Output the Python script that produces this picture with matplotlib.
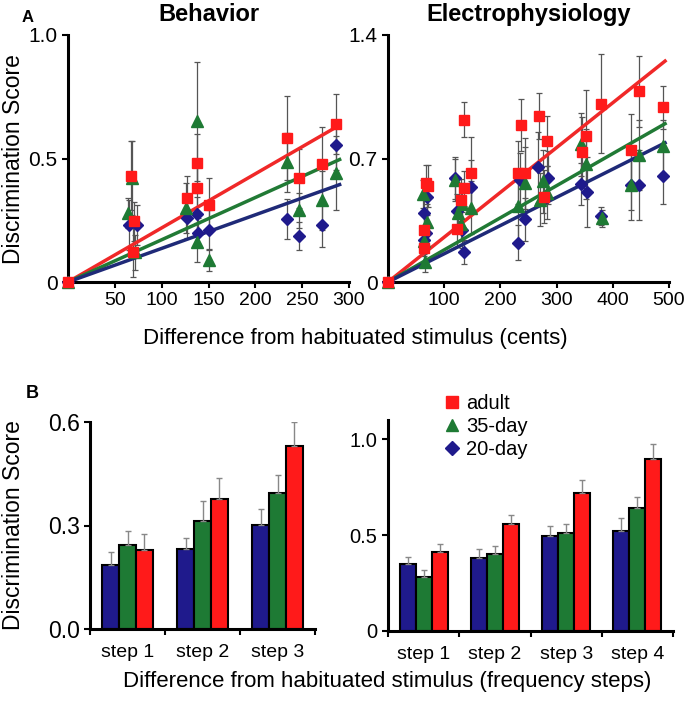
import matplotlib
matplotlib.use("Agg")
import matplotlib.pyplot as plt
import numpy as np
from matplotlib.lines import Line2D

plt.rcParams["font.family"] = ["Liberation Sans", "DejaVu Sans"]

# cores dos grupos
RED = "#ff1a1a"
GREEN = "#1e7a34"
BLUE = "#1f1a8c"
LINE_RED = "#f02828"
LINE_GREEN = "#217a35"
LINE_BLUE = "#1f2a78"

# ---- painel A: comportamento ----
beh_adult_x = [0, 67, 70, 69, 127, 138, 138, 150, 234, 247, 271, 286]
beh_adult_y = [0, 0.43, 0.245, 0.12, 0.34, 0.48, 0.38, 0.31, 0.584, 0.42, 0.478, 0.64]
beh_adult_e = [0, 0.14, 0.08, 0.10, 0.09, 0.12, 0.10, 0.11, 0.17, 0.12, 0.15, 0.12]

beh_35_x = [0, 64, 68, 72, 126, 138, 138, 150, 234, 247, 271, 286]
beh_35_y = [0, 0.28, 0.42, 0.12, 0.30, 0.65, 0.16, 0.09, 0.485, 0.29, 0.33, 0.44]
beh_35_e = [0, 0.06, 0.15, 0.07, 0.10, 0.24, 0.08, 0.045, 0.12, 0.07, 0.12, 0.15]

beh_20_x = [0, 65, 74, 127, 138, 139, 150, 234, 247, 271, 286]
beh_20_y = [0, 0.23, 0.23, 0.26, 0.275, 0.20, 0.21, 0.255, 0.186, 0.23, 0.555]
beh_20_e = [0, 0.10, 0.08, 0.08, 0.07, 0.06, 0.08, 0.08, 0.055, 0.09, 0.10]

beh_slopes = [0.00219, 0.00171, 0.00136]  # adult, 35-day, 20-day
beh_line_end = 290

# ---- painel A: eletrofisiologia ----
ele_adult_x = [0, 64, 64, 67, 72, 122, 130, 135, 135, 147, 232, 237, 243, 268, 277, 283,
               346, 353, 379, 433, 447, 490]
ele_adult_y = [0, 0.19, 0.295, 0.563, 0.544, 0.30, 0.465, 0.53, 0.92, 0.62, 0.62, 0.89,
               0.616, 0.94, 0.484, 0.80, 0.735, 0.83, 1.01, 0.75, 1.08, 0.99]
ele_adult_e = [0, 0.08, 0.10, 0.10, 0.12, 0.10, 0.12, 0.10, 0.10, 0.20, 0.18, 0.15,
               0.20, 0.13, 0.15, 0.14, 0.20, 0.26, 0.28, 0.20, 0.20, 0.12]

ele_35_x = [0, 62, 64, 66, 69, 120, 124, 130, 131, 147, 232, 243, 271, 275, 283,
            344, 353, 380, 433, 447, 490]
ele_35_y = [0, 0.50, 0.23, 0.115, 0.34, 0.58, 0.39, 0.33, 0.44, 0.42, 0.43, 0.563, 0.465,
            0.57, 0.506, 0.78, 0.67, 0.36, 0.55, 0.72, 0.77]
ele_35_e = [0, 0.08, 0.08, 0.06, 0.10, 0.12, 0.10, 0.10, 0.12, 0.15, 0.20, 0.20, 0.15,
            0.18, 0.15, 0.18, 0.20, 0.05, 0.20, 0.20, 0.15]

ele_20_x = [0, 64, 64, 67, 70, 120, 122, 131, 135, 147, 232, 235, 243, 267, 285,
            343, 354, 379, 433, 447, 490]
ele_20_y = [0, 0.24, 0.39, 0.28, 0.48, 0.59, 0.40, 0.295, 0.17, 0.54, 0.223, 0.58, 0.355,
            0.65, 0.59, 0.554, 0.51, 0.375, 0.55, 0.55, 0.60]
ele_20_e = [0, 0.08, 0.10, 0.10, 0.10, 0.12, 0.10, 0.10, 0.07, 0.15, 0.10, 0.15, 0.12,
            0.20, 0.15, 0.12, 0.20, 0.05, 0.14, 0.20, 0.16]

ele_slopes = [0.00254, 0.00182, 0.0016]
ele_line_end = 493

# ---- painel B: barras ----
steps_beh = ["step 1", "step 2", "step 3"]
bar_beh_20 = [0.186, 0.232, 0.302]
bar_beh_35 = [0.244, 0.312, 0.394]
bar_beh_adult = [0.230, 0.377, 0.529]
err_beh_20 = [0.036, 0.032, 0.046]
err_beh_35 = [0.039, 0.058, 0.053]
err_beh_adult = [0.045, 0.061, 0.071]

steps_ele = ["step 1", "step 2", "step 3", "step 4"]
bar_ele_20 = [0.351, 0.380, 0.493, 0.520]
bar_ele_35 = [0.282, 0.400, 0.509, 0.642]
bar_ele_adult = [0.412, 0.559, 0.720, 0.899]
err_ele_20 = [0.034, 0.045, 0.053, 0.068]
err_ele_35 = [0.035, 0.045, 0.048, 0.055]
err_ele_adult = [0.043, 0.045, 0.065, 0.078]

W, H = 684, 705
fig = plt.figure(figsize=(W / 100, H / 100), dpi=100)


def px_axes(left, top, right, bottom):
    return fig.add_axes([left / W, 1 - bottom / H, (right - left) / W, (bottom - top) / H])


def style_axes(ax):
    for s in ["top", "right"]:
        ax.spines[s].set_visible(False)
    for s in ["left", "bottom"]:
        ax.spines[s].set_linewidth(2.2)
    ax.tick_params(width=1.5, length=4, direction="out")


def scatter_panel(ax, groups, slopes, line_end):
    for slope, lc in zip(slopes, [LINE_RED, LINE_GREEN, LINE_BLUE]):
        xx = np.array([0, line_end])
        ax.plot(xx, slope * xx, color=lc, lw=2.5, zorder=2, clip_on=False)
    for x, y, e, color, marker, ms in groups[::-1]:
        ax.errorbar(x, y, yerr=e, fmt="none", ecolor="#555555", elinewidth=0.9,
                    capsize=2.2, capthick=0.9, zorder=1)
    for x, y, e, color, marker, ms in groups[::-1]:
        ax.plot(x, y, linestyle="none", marker=marker, ms=ms, color=color,
                markeredgecolor=color, zorder=3, clip_on=False)


ax1 = px_axes(68, 35, 349, 282)
style_axes(ax1)
scatter_panel(ax1, [
    (beh_adult_x, beh_adult_y, beh_adult_e, RED, "s", 7),
    (beh_35_x, beh_35_y, beh_35_e, GREEN, "^", 8),
    (beh_20_x, beh_20_y, beh_20_e, BLUE, "D", 6),
], beh_slopes, beh_line_end)
ax1.set_xlim(0, 300)
ax1.set_ylim(0, 1.0)
ax1.set_xticks([50, 100, 150, 200, 250, 300])
ax1.set_yticks([0, 0.5, 1.0])
ax1.set_yticklabels(["0", "0.5", "1.0"])
ax1.tick_params(axis="x", labelsize=14)
ax1.tick_params(axis="y", labelsize=15)
ax1.set_title("Behavior", fontsize=17, fontweight="bold", pad=10)

ax2 = px_axes(388, 35, 669, 282)
style_axes(ax2)
scatter_panel(ax2, [
    (ele_adult_x, ele_adult_y, ele_adult_e, RED, "s", 7.5),
    (ele_35_x, ele_35_y, ele_35_e, GREEN, "^", 8.5),
    (ele_20_x, ele_20_y, ele_20_e, BLUE, "D", 6),
], ele_slopes, ele_line_end)
ax2.set_xlim(0, 500)
ax2.set_ylim(0, 1.4)
ax2.set_xticks([100, 200, 300, 400, 500])
ax2.set_yticks([0, 0.7, 1.4])
ax2.set_yticklabels(["0", "0.7", "1.4"])
ax2.tick_params(axis="x", labelsize=14)
ax2.tick_params(axis="y", labelsize=15)
ax2.set_title("Electrophysiology", fontsize=17, fontweight="bold", pad=10)


def bar_panel(ax, labels, b20, b35, bad, e20, e35, ead):
    n = len(labels)
    centers = np.arange(n) + 0.5
    bw = 0.225
    for off, vals, errs, color in [(-bw, b20, e20, BLUE), (0, b35, e35, GREEN), (bw, bad, ead, RED)]:
        ax.bar(centers + off, vals, width=bw, color=color, edgecolor="black", linewidth=1.5,
               yerr=[np.zeros(n), errs], error_kw=dict(ecolor="#888888", elinewidth=1,
                                                        capsize=2.5, capthick=1), zorder=2)
    ax.set_xlim(0, n)
    ax.set_xticks(np.arange(n + 1))
    ax.set_xticklabels([])
    ax.set_xticks(centers, minor=True)
    ax.set_xticklabels(labels, minor=True, fontsize=14)
    ax.tick_params(axis="x", which="minor", length=0, pad=11)


ax3 = px_axes(90, 422, 315, 629)
style_axes(ax3)
bar_panel(ax3, steps_beh, bar_beh_20, bar_beh_35, bar_beh_adult, err_beh_20, err_beh_35, err_beh_adult)
ax3.set_ylim(0, 0.6)
ax3.set_yticks([0, 0.3, 0.6])
ax3.set_yticklabels(["0.0", "0.3", "0.6"])
ax3.tick_params(axis="y", labelsize=16.5)

ax4 = px_axes(388, 420, 673, 631)
style_axes(ax4)
bar_panel(ax4, steps_ele, bar_ele_20, bar_ele_35, bar_ele_adult, err_ele_20, err_ele_35, err_ele_adult)
ax4.set_ylim(0, 1.1)
ax4.set_yticks([0, 0.5, 1.0])
ax4.set_yticklabels(["0", "0.5", "1.0"])
ax4.tick_params(axis="y", labelsize=14.5)

handles = [
    Line2D([], [], ls="none", marker="s", ms=8, color=RED, label="adult"),
    Line2D([], [], ls="none", marker="^", ms=9, color=GREEN, label="35-day"),
    Line2D([], [], ls="none", marker="D", ms=7, color=BLUE, label="20-day"),
]
fig.legend(handles=handles, loc="upper left", bbox_to_anchor=(444 / W, 1 - 394 / H),
           frameon=False, fontsize=14.5, handlelength=0.8, handletextpad=0.3,
           labelspacing=0.2, borderpad=0, borderaxespad=0)

# rótulos gerais
fig.text(14 / W, 1 - 159 / H, "Discrimination Score", rotation=90, fontsize=16.5,
         ha="center", va="center")
fig.text(14 / W, 1 - 525 / H, "Discrimination Score", rotation=90, fontsize=16.5,
         ha="center", va="center")
fig.text(355 / W, 1 - 339 / H, "Difference from habituated stimulus (cents)",
         fontsize=16, ha="center", va="center")
fig.text(387 / W, 1 - 681 / H, "Difference from habituated stimulus (frequency steps)",
         fontsize=16, ha="center", va="center")
fig.text(22 / W, 1 - 17 / H, "A", fontsize=12, fontweight="bold", va="center")
fig.text(26 / W, 1 - 393 / H, "B", fontsize=13, fontweight="bold", va="center")

fig.savefig("out.png", dpi=100)
